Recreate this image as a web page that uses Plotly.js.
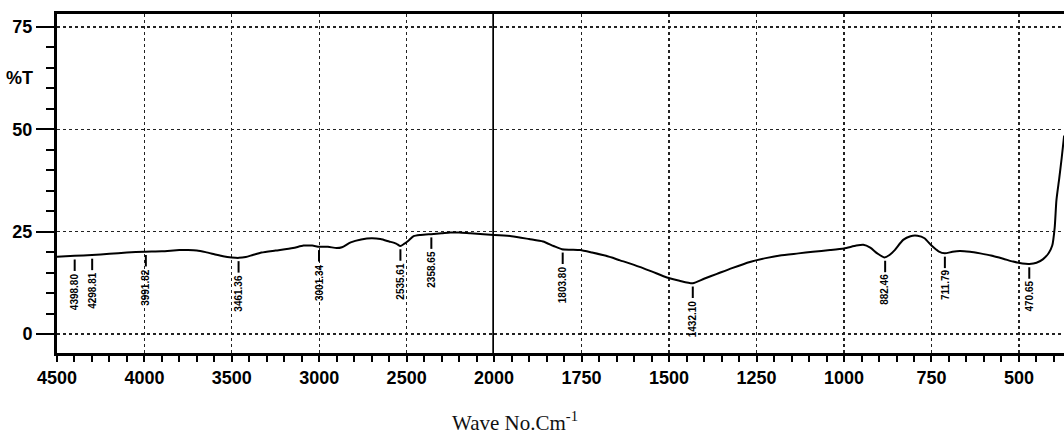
<!DOCTYPE html>
<html>
<head>
<meta charset="utf-8">
<script src="https://cdn.plot.ly/plotly-3.0.1.min.js"></script>
<style>html,body{margin:0;padding:0;background:#fff;}#chart{width:1064px;height:437px;}</style>
</head>
<body>
<div id="chart"></div>
<script>
// Spectrum, high wavenumber segment (4500-2000 cm-1)
const wnLeft = [4500,4450,4400,4300,4200,4100,4000,3900,3800,3750,3700,3650,3600,3550,3500,3461,3420,3380,3330,3250,3150,3090,3040,3000,2950,2900,2870,2820,2760,2700,2650,2600,2560,2536,2515,2490,2460,2420,2360,2300,2250,2200,2135,2060,2000];
const tLeft  = [18.9,19.0,19.1,19.3,19.6,19.9,20.1,20.2,20.5,20.5,20.4,20.0,19.5,19.0,18.7,18.6,18.8,19.3,19.9,20.4,21.0,21.6,21.6,21.3,21.3,21.0,21.2,22.4,23.1,23.4,23.2,22.6,22.1,21.5,22.0,22.8,23.9,24.2,24.4,24.6,24.8,24.8,24.6,24.4,24.2];
// Spectrum, low wavenumber segment (2000-371 cm-1)
const wnRight = [2000,1950,1900,1860,1830,1806,1780,1754,1720,1680,1640,1600,1550,1506,1470,1432,1400,1363,1320,1269,1220,1183,1130,1089,1040,1000,965,945,925,905,885,870,855,831,810,790,770,750,730,712,690,669,640,611,580,545,517,490,470,450,431,415,405,398,393,385,378,371];
const tRight  = [24.2,23.9,23.2,22.6,21.5,20.7,20.6,20.5,19.9,19.1,18.0,16.9,15.3,13.8,13.0,12.4,13.5,14.7,16.1,17.6,18.6,19.2,19.7,20.1,20.5,20.9,21.6,21.8,21.1,19.7,18.7,19.3,20.5,23.0,23.9,24.0,23.4,21.6,20.2,19.7,20.1,20.3,20.1,19.7,19.2,18.4,17.7,17.2,17.1,17.4,18.3,19.8,21.6,26.0,32.7,38.0,43.0,48.5];
// Peak labels
const peakWn    = [4398.80,4298.81,3991.82,3461.36,3001.34,2535.61,2358.65,1803.80,1432.10,882.46,711.79,470.65];
const peakText  = ["4398.80","4298.81","3991.82","3461.36","3001.34","2535.61","2358.65","1803.80","1432.10","882.46","711.79","470.65"];
const peakT     = [19.0,19.2,20.1,18.6,21.3,21.5,24.4,20.7,12.4,18.7,19.7,17.1];
// Axis ticks
const xTicksLeft  = [4500,4000,3500,3000,2500,2000];
const xTicksRight = [1750,1500,1250,1000,750,500];
const yTicks = [0,25,50,75];
const yTickText = ["0","25","50","75"];
const splitWn = 2000;

const tickFont = {family:'"Liberation Sans", Arial, sans-serif', size:18, color:'#000', weight:'bold'};

function peakLines(side){
  const xs=[], ys=[];
  peakWn.forEach((w,i)=>{
    const isLeft = w >= splitWn;
    if ((side==='L') !== isLeft) return;
    xs.push(w,w,null); ys.push(peakT[i]-0.8, peakT[i]-3.6, null);
  });
  return {x:xs,y:ys};
}
const pl = peakLines('L'), pr = peakLines('R');

const data = [
  {x:wnLeft, y:tLeft, xaxis:'x', yaxis:'y', mode:'lines', line:{color:'#000', width:2, shape:'spline', smoothing:0.6}, hoverinfo:'skip'},
  {x:wnRight, y:tRight, xaxis:'x2', yaxis:'y', mode:'lines', line:{color:'#000', width:2, shape:'spline', smoothing:0.6}, hoverinfo:'skip'},
  {x:pl.x, y:pl.y, xaxis:'x', yaxis:'y', mode:'lines', line:{color:'#000', width:2}, hoverinfo:'skip'},
  {x:pr.x, y:pr.y, xaxis:'x2', yaxis:'y', mode:'lines', line:{color:'#000', width:2}, hoverinfo:'skip'}
];

const annotations = peakWn.map((w,i)=>({
  x:w, y:peakT[i]-3.6, xref: w>=splitWn ? 'x':'x2', yref:'y',
  text:peakText[i], showarrow:false, textangle:-90,
  xanchor:'center', yanchor:'top',
  font:{family:'"Liberation Sans", Arial, sans-serif', size:10, color:'#000', weight:'bold'}
}));
annotations.push({
  x:-0.0218, y:62.5, xref:'paper', yref:'y', text:'%T', showarrow:false,
  xanchor:'right', yanchor:'middle', font:tickFont
});
annotations.push({
  x:0.455, y:-0.2035, xref:'paper', yref:'paper', text:'Wave No.Cm<sup>-1</sup>', showarrow:false,
  xanchor:'center', yanchor:'middle',
  font:{family:'"Liberation Serif", "Times New Roman", serif', size:21, color:'#111'}
});

const gridCommon = {showgrid:true, gridcolor:'#222', griddash:'dot', gridwidth:1.3, zeroline:false};

const layout = {
  width:1064, height:437,
  margin:{l:57, r:0, t:14, b:84},
  paper_bgcolor:'#fff', plot_bgcolor:'#fff',
  showlegend:false,
  xaxis:Object.assign({
    domain:[0, 0.434], range:[4500, 2000], anchor:'y',
    tickmode:'array', tickvals:xTicksLeft, ticktext:xTicksLeft.map(String),
    ticks:'outside', ticklen:6, tickwidth:2, tickcolor:'#000',
    minor:{dtick:100, tick0:0, ticks:'outside', ticklen:6, tickwidth:2, tickcolor:'#000', showgrid:false},
    showline:true, linewidth:3, linecolor:'#000', mirror:true,
    tickfont:tickFont
  }, gridCommon),
  xaxis2:Object.assign({
    domain:[0.434, 1], range:[2000, 371.4], anchor:'y',
    tickmode:'array', tickvals:xTicksRight, ticktext:xTicksRight.map(String),
    ticks:'outside', ticklen:6, tickwidth:2, tickcolor:'#000',
    minor:{dtick:50, tick0:0, ticks:'outside', ticklen:6, tickwidth:2, tickcolor:'#000', showgrid:false},
    showline:true, linewidth:3, linecolor:'#000', mirror:true,
    tickfont:tickFont
  }, gridCommon),
  yaxis:Object.assign({
    range:[-4.64, 78.18],
    tickmode:'array', tickvals:yTicks, ticktext:yTickText,
    ticks:'outside', ticklen:18, tickwidth:2, tickcolor:'#000',
    minor:{dtick:5, tick0:0, ticks:'outside', ticklen:8, tickwidth:2, tickcolor:'#000', showgrid:false},
    showline:true, linewidth:3, linecolor:'#000',
    tickfont:tickFont
  }, gridCommon),
  shapes:[{type:'line', xref:'x', yref:'paper', x0:splitWn, x1:splitWn, y0:0, y1:1, line:{color:'#000', width:3.5}}],
  annotations:annotations
};

Plotly.newPlot('chart', data, layout, {staticPlot:true, displayModeBar:false});
</script>
</body>
</html>
